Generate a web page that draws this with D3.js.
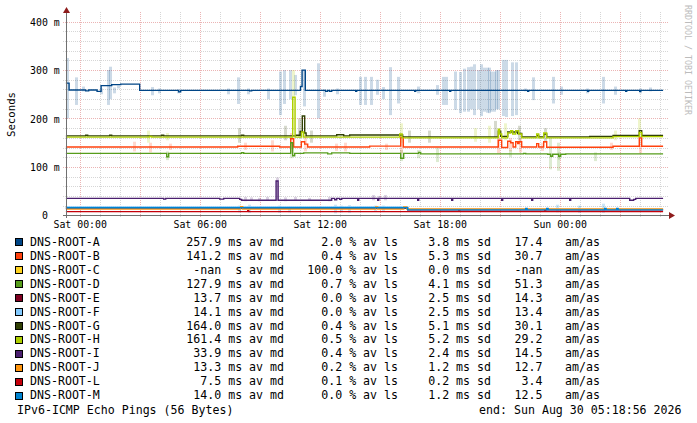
<!DOCTYPE html>
<html><head><meta charset="utf-8">
<script src="https://cdn.jsdelivr.net/npm/d3@7"></script>
<style>
html,body{margin:0;padding:0;background:#fff;}
svg{display:block;font-family:"DejaVu Sans Mono",monospace;}
text{white-space:pre;}
</style></head><body>
<svg id="c" width="697" height="423"></svg>
<script>
// ---------- data (hours relative to Sat 00:00, values in ms) ----------
const seriesNames = ["DNS-ROOT-A","DNS-ROOT-B","DNS-ROOT-C","DNS-ROOT-D","DNS-ROOT-E","DNS-ROOT-F","DNS-ROOT-G","DNS-ROOT-H","DNS-ROOT-I","DNS-ROOT-J","DNS-ROOT-L","DNS-ROOT-M"];
const seriesColors = ["#004586","#ff420e","#ffd320","#579d1c","#7e0021","#83caff","#314004","#aecf00","#4b1f6f","#ff950e","#c5000b","#0084d1"];
const medianLabels = ["257.9 ms","141.2 ms"," -nan  s","127.9 ms","13.7 ms","14.1 ms","164.0 ms","161.4 ms","33.9 ms","13.3 ms","7.5 ms","14.0 ms"];
const lossLabels = ["2.0","0.4","100.0","0.7","0.0","0.0","0.4","0.5","0.4","0.2","0.1","0.0"];
const sdLabels = ["3.8","5.3","0.0","4.1","2.5","2.5","5.1","5.2","2.4","1.2","0.2","1.2"];
const amasLabels = ["17.4","30.7","-nan","51.3","14.3","13.4","30.1","29.2","14.5","12.7","3.4","12.5"];
const yTickValues = [0,100,200,300,400];
const yTickLabels = ["0","100 m","200 m","300 m","400 m"];

const medA = [[-0.69,273],[-0.53,259],[0.3,257],[0.45,259],[0.87,256],[1.07,268],[1.6,270],[2.05,271],[3.0,258],[4.95,255],[5.05,258],[8.5,257],[8.6,258],[11.04,266],[11.12,300],[11.28,258],[12.3,256],[12.4,258],[12.5,256],[12.6,258],[13.8,256],[13.85,258],[16.75,256],[16.8,258],[18.5,256],[18.55,258],[22.4,256],[22.45,258],[25.4,256],[25.45,258],[27.3,256],[27.35,258],[28.0,256],[28.05,258],[29.17,258]];
const medB = [[-0.69,141],[7.9,142.5],[10.0,141],[10.55,158],[10.7,141],[11.08,152],[11.25,147],[11.4,141],[14.5,143],[16.05,161],[16.18,141],[20.93,155],[21.1,140],[21.4,153],[21.55,150],[21.67,141],[21.8,152],[21.9,148],[21.97,152],[22.1,141],[22.85,148],[22.95,141],[23.2,152],[23.35,140.5],[26.67,142.5],[27.98,160],[28.1,142.5],[29.17,142.5]];
const medC = [];
const medD = [[-0.69,128],[4.35,121],[4.45,128],[8.1,129.5],[8.2,128],[10.55,150],[10.65,123],[10.75,128],[11.2,129],[12.4,127],[12.6,129],[13.5,128],[16.05,118],[16.2,128],[16.95,130],[17.05,127],[22.2,128],[22.3,127],[23.4,126],[23.55,122],[23.65,126],[23.95,122],[24.05,126],[24.3,127],[29.17,127]];
const medE = [[-0.69,14.5],[16.4,11.5],[29.17,11.5]];
const medF = [[-0.69,17.5],[16.4,12.8],[29.17,12.8]];
const medG = [[-0.69,164],[0.3,165.5],[0.4,164],[1.5,165.5],[1.6,164],[4.1,165.5],[4.2,164],[8.1,165.5],[8.2,164],[10.8,165.5],[11.02,173],[11.13,205],[11.25,170],[11.32,164],[12.85,166.5],[13.2,164],[13.5,166],[16.0,166],[16.15,162],[20.93,174],[21.05,163],[21.4,172],[21.9,169],[22.1,162],[22.85,165],[22.95,162],[23.2,168],[23.35,162],[25.5,163],[26.67,165],[27.98,175],[28.1,165],[29.17,165]];
const medH = [[-0.69,161.5],[3.5,163],[3.6,161.5],[10.65,244],[10.77,161.5],[11.1,172],[11.2,161.5],[16.0,168],[16.12,160],[20.93,178],[21.0,168],[21.1,160],[21.4,170],[21.55,175],[21.65,168],[21.8,175],[21.95,168],[22.1,160],[22.85,168],[22.95,160],[23.2,170],[23.35,160],[26.67,162.5],[27.98,171],[28.1,162.5],[29.17,162.5]];
const medI = [[-0.69,35],[4.2,33.5],[4.3,35],[7.0,33.5],[7.2,35],[8.0,33],[8.1,31],[9.82,71],[9.92,31],[12.6,35],[12.75,32],[12.85,35],[13.0,33],[13.1,35],[13.9,31],[13.95,35],[14.9,31],[14.95,35],[16.9,31],[16.95,35],[18.6,31],[18.65,35],[21.1,31],[21.15,35],[22.6,31],[22.65,35],[24.5,31],[24.55,35],[27.5,31],[27.7,33],[27.8,35],[29.17,35]];
const medJ = [[-0.69,13],[8.05,18],[8.15,13],[14.8,17],[14.9,13],[16.2,17],[16.35,13],[29.17,13]];
const medL = [[-0.69,7.5],[8.4,9.5],[8.45,7.5],[18.95,9],[19.0,7.5],[23.25,9.5],[23.3,7.5],[29.17,7.5]];
const medM = [[-0.69,15.5],[16.4,11.3],[22.3,14],[22.37,11.3],[23.35,14],[23.42,11.3],[26.25,14],[26.32,11.3],[26.85,14],[26.92,11.3],[29.17,11.3]];

// smoke bars: [hour, low, high]
const smokeA = [[-0.63,200,325],[-0.18,228,285],[0.17,256,266],[1.07,250,262],[1.42,228,300],[1.52,240,307],[1.72,252,264],[1.92,262,268],[3.62,248,265],[4.0,252,262],[4.92,252,260],[7.42,250,262],[7.92,230,285],[8.42,250,262],[9.42,240,262],[10.02,207,297],[10.22,230,300],[10.52,240,300],[10.77,248,290],[11.22,225,300],[11.92,200,314],[12.22,245,260],[12.87,250,262],[14.02,228,286],[14.27,228,286],[14.57,228,286],[14.87,249,280],[15.17,240,265],[15.52,207,306],[15.92,231,286],[16.92,252,266],[17.87,249,269],[18.17,228,286],[18.32,228,286],[18.79,218,297],[19.04,211,296],[19.22,214,303],[19.42,214,306],[19.57,219,307],[19.72,207,312],[19.92,219,300],[20.07,205,312],[20.22,214,305],[20.37,212,305],[20.47,211,305],[20.6,214,297],[20.75,214,297],[20.85,219,300],[20.95,219,300],[21.19,205,321],[21.34,203,321],[21.62,205,316],[21.82,207,316],[22.27,256,262],[22.67,238,285],[23.67,231,286],[24.07,249,266],[25.37,252,262],[26.17,231,286],[26.77,249,266],[28.02,252,262],[28.52,256,264]];
const smokeB = [[2.72,132,152],[3.52,130,150],[4.52,135,148],[8.27,135,150],[9.62,132,155],[10.57,130,170],[11.27,132,165],[12.82,133,148],[13.27,132,150],[15.32,135,148],[16.07,128,162],[20.92,128,165],[21.52,132,160],[22.02,130,158],[23.12,133,150],[26.57,135,150],[28.02,128,162]];
const smokeD = [[4.37,114,132],[10.57,118,150],[16.07,112,135],[16.92,118,135],[17.87,110,140],[21.52,120,135],[23.52,95,160],[23.92,92,150],[24.0,115,130],[25.77,112,130]];
const smokeG = [[8.0,150,180],[10.27,155,185],[11.0,160,200],[11.6,150,175],[16.5,150,175],[17.5,150,175],[20.77,160,195],[22.0,155,185],[23.27,150,180]];
const smokeH = [[3.42,150,175],[4.37,155,170],[10.7,176,300],[16.1,150,190],[19.8,152,180],[20.5,150,185],[21.3,155,190],[26.77,155,175],[28.0,160,200]];
const smokeI = [[8.3,29,38],[8.6,30,37],[9.0,29,36],[9.4,30,38],[9.87,30,78],[10.3,29,37],[10.8,30,38],[11.5,30,36],[12.5,29,38],[14.7,31,42],[15.0,31,40],[15.3,31,42]];
const smokeM = [[8.0,6,20],[8.5,5,22],[10.0,5,20],[10.5,6,18],[12.8,4,22],[13.1,6,20],[13.5,5,21],[14.8,8,20],[15.2,8,20],[23.9,6,22],[25.0,5,20],[26.2,5,24]];

const medians = [medA,medB,medC,medD,medE,medF,medG,medH,medI,medJ,medL,medM];
const smokes = [smokeA,smokeB,[],smokeD,[],[],smokeG,smokeH,smokeI,[],[],smokeM];

// ---------- scales ----------
const SAT0 = new Date(2026,7,29,0,0,0).getTime();
const END = new Date(2026,7,30,5,18,56);
const START = new Date(END.getTime() - 30*3600e3);
const T = h => new Date(SAT0 + h*3600e3);

const x = d3.scaleTime().domain([START, END]).range([66, 666]);
const y = d3.scaleLinear().domain([0, 420]).range([215.3, 12]);

const svg = d3.select("#c");
svg.append("rect").attr("width",697).attr("height",423).attr("fill","#fff");

const px = v => Math.round(v) + 0.5;

// ---------- grid ----------
const g = svg.append("g");
const minorY = d3.range(20, 420, 20).filter(v => v % 100 !== 0);
g.selectAll(".hy").data(minorY).join("line")
  .attr("x1",63).attr("x2",668).attr("y1",d=>px(y(d))).attr("y2",d=>px(y(d)))
  .attr("stroke","#d6d6d6").attr("stroke-dasharray","1,1");
const hours = d3.timeHour.range(START, END);
g.selectAll(".vx").data(hours.filter(d => d.getHours()%3 !== 0)).join("line")
  .attr("x1",d=>px(x(d))).attr("x2",d=>px(x(d))).attr("y1",12).attr("y2",218)
  .attr("stroke","#d6d6d6").attr("stroke-dasharray","1,1");
g.selectAll(".hyM").data(yTickValues.filter(v=>v>0)).join("line")
  .attr("x1",63).attr("x2",668).attr("y1",d=>px(y(d))).attr("y2",d=>px(y(d)))
  .attr("stroke","#ebb4b4").attr("stroke-dasharray","1,1");
g.selectAll(".vxM").data(hours.filter(d => d.getHours()%3 === 0)).join("line")
  .attr("x1",d=>px(x(d))).attr("x2",d=>px(x(d))).attr("y1",12).attr("y2",218)
  .attr("stroke","#ebb4b4").attr("stroke-dasharray","1,1");

// ---------- smoke ----------
const smokeG_ = svg.append("g");
smokes.forEach((arr,i) => {
  smokeG_.append("g").selectAll("rect").data(arr).join("rect")
    .attr("x", d => Math.round(x(T(d[0])) - 1.5))
    .attr("width", 3)
    .attr("y", d => y(d[2]))
    .attr("height", d => y(d[1]) - y(d[2]))
    .attr("fill", seriesColors[i]).attr("fill-opacity", 0.2);
});

// ---------- median lines ----------
const line = d3.line().x(d => x(T(d[0]))).y(d => y(d[1])).curve(d3.curveStepAfter);
medians.forEach((arr,i) => {
  if (!arr.length) return;
  svg.append("path").datum(arr).attr("d", line)
    .attr("fill","none").attr("stroke", seriesColors[i]).attr("stroke-width",1.4);
});

// ---------- axes ----------
svg.append("line").attr("x1",63).attr("x2",671).attr("y1",215.5).attr("y2",215.5).attr("stroke","#707070");
svg.append("line").attr("x1",66.5).attr("x2",66.5).attr("y1",218).attr("y2",12).attr("stroke","#707070");
svg.append("path").attr("d","M63,13 L70,13 L66.5,7 Z").attr("fill","#8e1c1c");
svg.append("path").attr("d","M669,212 L669,219 L675,215.5 Z").attr("fill","#8e1c1c");

const yAxis = d3.axisLeft(y).tickValues(yTickValues)
  .tickFormat((d,i) => yTickLabels[i]).tickSize(0).tickPadding(0);
const ya = svg.append("g").attr("transform","translate(59.8,0)").call(yAxis);
ya.select(".domain").remove();
ya.selectAll("text").attr("font-family","DejaVu Sans Mono").attr("font-size","9.9px").attr("fill","#000").attr("dy","0.36em")
  .attr("x", d => d === 0 ? -11.9 : 0);

const xAxis = d3.axisBottom(x).tickValues(d3.timeHour.every(6).range(START, END))
  .tickFormat(d3.timeFormat("%a %H:%M")).tickSize(0).tickPadding(0);
const xa = svg.append("g").attr("transform","translate(0,221)").call(xAxis);
xa.select(".domain").remove();
xa.selectAll("text").attr("font-family","DejaVu Sans Mono").attr("font-size","9.9px").attr("fill","#000").attr("dy","0.7em");

svg.append("text").attr("transform","translate(11,114.5) rotate(-90)")
  .attr("text-anchor","middle").attr("dy","0.35em").attr("font-size","10.7px").text("Seconds");

svg.append("text").attr("transform","translate(684.5,5) rotate(90)")
  .attr("font-size","8.3px").attr("fill","#bcbcbc").text("RRDTOOL / TOBI OETIKER");

// ---------- legend ----------
const leg = svg.append("g").attr("font-size","11.6px").attr("fill","#000");
const rowY = i => 241.7 + i*13.94;
seriesNames.forEach((n,i) => {
  const cy = rowY(i), by = cy + 4.2;
  leg.append("rect").attr("x",15.5).attr("y",Math.round(cy-3.5)+0.5).attr("width",7).attr("height",7)
    .attr("fill",seriesColors[i]).attr("stroke","#000");
  leg.append("text").attr("x",30).attr("y",by).text(n);
  leg.append("text").attr("x",284).attr("y",by).attr("text-anchor","end").text(medianLabels[i] + " av md");
  leg.append("text").attr("x",398).attr("y",by).attr("text-anchor","end").text(lossLabels[i] + " % av ls");
  leg.append("text").attr("x",491).attr("y",by).attr("text-anchor","end").text(sdLabels[i] + " ms sd");
  leg.append("text").attr("x",542.5).attr("y",by).attr("text-anchor","end").text(amasLabels[i]);
  leg.append("text").attr("x",565).attr("y",by).text("am/as");
});
leg.append("text").attr("x",17).attr("y",409.3+4.2).text("IPv6-ICMP Echo Pings (56 Bytes)");
leg.append("text").attr("x",681.5).attr("y",409.3+4.2).attr("text-anchor","end").text("end: Sun Aug 30 05:18:56 2026");
</script></body></html>
